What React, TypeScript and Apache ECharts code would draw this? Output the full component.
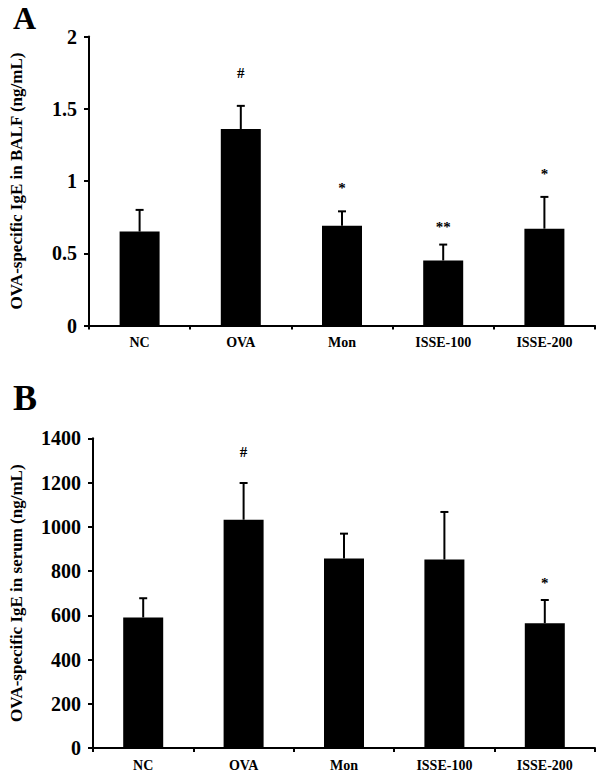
import React, { useEffect, useRef } from "react";
import * as echarts from "echarts";

const categories = ["NC", "OVA", "Mon", "ISSE-100", "ISSE-200"];

const balfMean = [0.65, 1.36, 0.69, 0.45, 0.67];
const balfErr = [0.15, 0.16, 0.1, 0.11, 0.22];
const balfMarks = ["", "#", "*", "**", "*"];
const balfMarkY = [0, 1.75, 0.95, 0.68, 1.05];
const balfTicks = { min: 0, max: 2, interval: 0.5 };

const serumMean = [590, 1032, 857, 852, 564];
const serumErr = [87, 166, 112, 215, 105];
const serumMarks = ["", "#", "", "", "*"];
const serumMarkY = [0, 1340, 0, 0, 747];
const serumTicks = { min: 0, max: 1400, interval: 200 };

const FONT = "'Liberation Serif', 'Times New Roman', serif";

function errRender(params: any, api: any) {
  const x = api.value(0);
  const base = api.value(1);
  const top = api.value(2);
  const p1 = api.coord([x, base]);
  const p2 = api.coord([x, top]);
  return {
    type: "group",
    children: [
      {
        type: "line",
        shape: { x1: p1[0], y1: p1[1], x2: p2[0], y2: p2[1] },
        style: { stroke: "#000", lineWidth: 2 },
      },
      {
        type: "line",
        shape: { x1: p2[0] - 4, y1: p2[1], x2: p2[0] + 4, y2: p2[1] },
        style: { stroke: "#000", lineWidth: 2 },
      },
    ],
  };
}

function markRender(marks: string[]) {
  return (params: any, api: any) => {
    const i = api.value(0);
    const p = api.coord([i, api.value(1)]);
    return {
      type: "text",
      x: p[0],
      y: p[1],
      style: {
        text: marks[i],
        fill: "#000",
        fontFamily: FONT,
        fontWeight: "bold",
        fontSize: 15,
        align: "center",
        verticalAlign: "middle",
      },
    };
  };
}

function panelSeries(idx: number, mean: number[], err: number[], marks: string[], markY: number[]) {
  const markData = marks
    .map((m, i) => (m ? [i, markY[i]] : null))
    .filter((d) => d !== null);
  return [
    {
      type: "bar",
      xAxisIndex: idx,
      yAxisIndex: idx,
      data: mean,
      barWidth: 40,
      itemStyle: { color: "#000" },
      z: 2,
    },
    {
      type: "custom",
      xAxisIndex: idx,
      yAxisIndex: idx,
      renderItem: errRender,
      data: mean.map((v, i) => [i, v, v + err[i]]),
      z: 3,
    },
    {
      type: "custom",
      xAxisIndex: idx,
      yAxisIndex: idx,
      renderItem: markRender(marks),
      data: markData,
      z: 4,
    },
  ];
}

function xAxisDef(idx: number) {
  return {
    type: "category",
    gridIndex: idx,
    data: categories,
    axisLine: { lineStyle: { color: "#000", width: 2 } },
    axisTick: { show: true, length: 4, lineStyle: { color: "#000", width: 2 } },
    axisLabel: {
      color: "#000",
      fontFamily: FONT,
      fontWeight: "bold",
      fontSize: 14,
      margin: 10,
    },
  };
}

function yAxisDef(idx: number, ticks: any, name: string, gap: number) {
  return {
    type: "value",
    gridIndex: idx,
    min: ticks.min,
    max: ticks.max,
    interval: ticks.interval,
    name,
    nameLocation: "middle",
    nameGap: gap,
    nameTextStyle: {
      color: "#000",
      fontFamily: FONT,
      fontWeight: "bold",
      fontSize: 17,
    },
    axisLine: { show: true, lineStyle: { color: "#000", width: 2 } },
    axisTick: { show: true, length: 5, lineStyle: { color: "#000", width: 2 } },
    splitLine: { show: false },
    axisLabel: {
      color: "#000",
      fontFamily: FONT,
      fontWeight: "bold",
      fontSize: 20,
      margin: 12,
      formatter: (v: number) => String(v),
    },
  };
}

export default function App() {
  const ref = useRef<HTMLDivElement>(null);
  useEffect(() => {
    if (!ref.current) return;
    const chart = echarts.init(ref.current, null, { renderer: "svg" });
    chart.setOption({
      animation: false,
      backgroundColor: "#fff",
      graphic: [
        {
          type: "text",
          left: 13,
          top: 2,
          style: { text: "A", fontFamily: FONT, fontWeight: "bold", fontSize: 32, fill: "#000" },
        },
        {
          type: "text",
          left: 13,
          top: 380,
          style: { text: "B", fontFamily: FONT, fontWeight: "bold", fontSize: 36, fill: "#000" },
        },
      ],
      grid: [
        { left: 80, right: 5, top: 36.5, height: 289 },
        { left: 84, right: 5, top: 438.3, height: 311 },
      ],
      xAxis: [xAxisDef(0), xAxisDef(1)],
      yAxis: [
        yAxisDef(0, balfTicks, "OVA-specific IgE in BALF (ng/mL)", 64),
        yAxisDef(1, serumTicks, "OVA-specific IgE in serum (ng/mL)", 68),
      ],
      series: [
        ...panelSeries(0, balfMean, balfErr, balfMarks, balfMarkY),
        ...panelSeries(1, serumMean, serumErr, serumMarks, serumMarkY),
      ],
    });
    return () => chart.dispose();
  }, []);
  return (
    <div
      ref={ref}
      style={{ position: "absolute", left: 0, top: 0, width: 600, height: 772, background: "#fff" }}
    />
  );
}
